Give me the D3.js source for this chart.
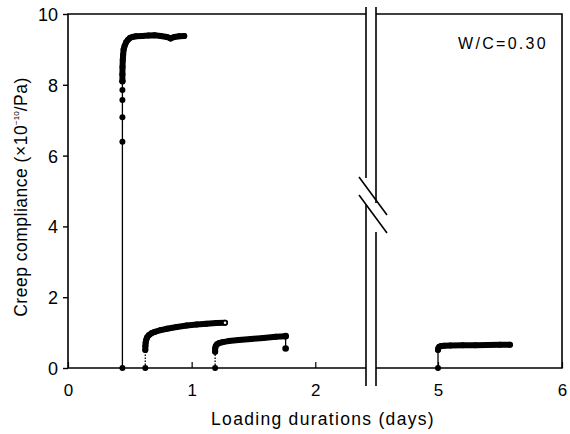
<!DOCTYPE html>
<html><head><meta charset="utf-8">
<script src="https://cdn.jsdelivr.net/npm/d3@7"></script>
<style>
body{margin:0;background:#fff;}
svg{display:block;font-family:"Liberation Sans",Arial,Helvetica,sans-serif;}
</style></head>
<body><svg id="c" width="570" height="434"></svg>
<script>
// ---- data ----
const yTicks = [0, 2, 4, 6, 8, 10];
const xTicksLeft = [0, 1, 2];
const xTicksRight = [5, 6];
const annotation = "W/C=0.30";

// series 1 (first loading)
const s1Rise = [[0.44,0],[0.44,6.39],[0.44,7.08],[0.44,7.57],[0.44,7.85],[0.44,8.09]];
const s1Curve = [[0.44,8.1],[0.44,8.3],[0.441,8.5],[0.443,8.7],[0.446,8.85],[0.45,9.0],[0.458,9.1],[0.47,9.2],[0.485,9.27],[0.5,9.32],[0.52,9.35],[0.55,9.37],[0.6,9.38],[0.65,9.39],[0.7,9.40],[0.75,9.38],[0.8,9.35],[0.83,9.31],[0.86,9.35],[0.9,9.37],[0.94,9.38]];
// series 2
const s2Stem = [[0.625,0],[0.625,0.51]];
const s2Curve = [[0.625,0.51],[0.626,0.62],[0.628,0.72],[0.633,0.8],[0.64,0.87],[0.655,0.93],[0.675,0.98],[0.7,1.02],[0.75,1.07],[0.8,1.11],[0.88,1.16],[0.96,1.2],[1.04,1.23],[1.12,1.25],[1.2,1.27],[1.27,1.28]];
// series 3
const s3Stem = [[1.19,0],[1.19,0.46]];
const s3Curve = [[1.19,0.46],[1.19,0.55],[1.195,0.62],[1.205,0.67],[1.22,0.7],[1.25,0.73],[1.3,0.76],[1.38,0.79],[1.48,0.82],[1.58,0.85],[1.68,0.88],[1.76,0.9]];
const s3Drop = [[1.76,0.9],[1.76,0.55]];
// series 4 (after break)
const s4Stem = [[5,0],[5,0.51]];
const s4Curve = [[5,0.51],[5.003,0.56],[5.01,0.6],[5.025,0.62],[5.05,0.63],[5.1,0.635],[5.2,0.64],[5.3,0.645],[5.4,0.65],[5.5,0.655],[5.58,0.66]];

// ---- layout ----
const svg = d3.select("#c");
const yTop = 14, yBot = 368;
const xL = d3.scaleLinear().domain([0, 2.41]).range([68, 366]);
const xR = d3.scaleLinear().domain([4.5, 6]).range([376, 562]);
const y = d3.scaleLinear().domain([0, 10]).range([yBot, yTop]);
const X = t => t < 3 ? xL(t) : xR(t);
const line = d3.line().x(d => X(d[0])).y(d => y(d[1]));

// frame
const fr = svg.append("g").attr("stroke","#000").attr("stroke-width",1.6).attr("fill","none");
fr.append("path").attr("d", `M366,${yTop}H68V${yBot}H366`);
fr.append("path").attr("d", `M376,${yTop}H562V${yBot}H376`);
// break double lines with slashes
fr.append("path").attr("d", `M366,7V178M366,205V386`);
fr.append("path").attr("d", `M376,7V203M376,232V386`);
svg.append("path").attr("d","M359,177L387,215M359,195L387,233").attr("stroke","#000").attr("stroke-width",1.6).attr("fill","none");

// y axis
const ya = svg.append("g").attr("transform","translate(68,0)")
  .call(d3.axisLeft(y).tickValues(yTicks).tickFormat(d3.format("d")).tickSize(5).tickPadding(5).tickSizeOuter(0));
ya.select(".domain").remove();
ya.selectAll("line").attr("stroke-width",1.4);
ya.selectAll("text").attr("font-size",18).attr("fill","#000").attr("dy","0.36em");
ya.attr("font-family",null);

// x axes
function xAxis(sc, vals){
  const g = svg.append("g").attr("transform",`translate(0,${yBot})`)
    .call(d3.axisBottom(sc).tickValues(vals).tickFormat(d3.format("d")).tickSizeInner(-6).tickSizeOuter(0).tickPadding(16));
  g.select(".domain").remove();
  g.selectAll("line").attr("stroke-width",1.2);
  g.selectAll("text").attr("font-size",17).attr("fill","#000");
  g.attr("font-family",null);
}
xAxis(xL, xTicksLeft);
xAxis(xR, xTicksRight);

// axis titles
const yl = svg.append("text").attr("transform","translate(27,197) rotate(-90)")
  .attr("text-anchor","middle").attr("font-size",17.5).attr("letter-spacing",0.5);
yl.append("tspan").text("Creep compliance (×10");
yl.append("tspan").text("−10").attr("font-size",8).attr("dy",-8).attr("letter-spacing",0);
yl.append("tspan").text("/Pa)").attr("dy",8);
svg.append("text").attr("x",323).attr("y",425).attr("text-anchor","middle")
  .attr("font-size",17.5).attr("letter-spacing",1.3).text("Loading durations (days)");
svg.append("text").attr("x",548).attr("y",48.5).attr("text-anchor","end")
  .attr("font-size",16).attr("letter-spacing",2.3).text(annotation);

// data
const dg = svg.append("g");
function thin(data, dashed){
  dg.append("path").datum(data).attr("d", line).attr("fill","none").attr("stroke","#000")
    .attr("stroke-width",1.3).attr("stroke-dasharray", dashed ? "1.5,1.5" : null);
}
function thick(data){
  dg.append("path").datum(data).attr("d", line).attr("fill","none").attr("stroke","#000")
    .attr("stroke-width",6).attr("stroke-linecap","round").attr("stroke-linejoin","round");
}
function dots(data, r){
  dg.selectAll(null).data(data).enter().append("circle")
    .attr("cx", d => X(d[0])).attr("cy", d => y(d[1])).attr("r", r).attr("fill","#000");
}
thin(s1Rise,false); dots(s1Rise,3); thick(s1Curve); dots(s1Curve,3);
thin(s2Stem,true); dots(s2Stem.slice(0,1),3); thick(s2Curve); dots(s2Curve,3);
dg.append("circle").attr("cx",X(s2Curve[s2Curve.length-1][0])).attr("cy",y(s2Curve[s2Curve.length-1][1])).attr("r",1.3).attr("fill","#fff");
thin(s3Stem,true); dots(s3Stem.slice(0,1),3); thick(s3Curve); dots(s3Curve,3);
thin(s3Drop,false); dots(s3Drop,3.3);
thin(s4Stem,false); dots(s4Stem.slice(0,1),3); thick(s4Curve); dots(s4Curve,3);
</script></body></html>
